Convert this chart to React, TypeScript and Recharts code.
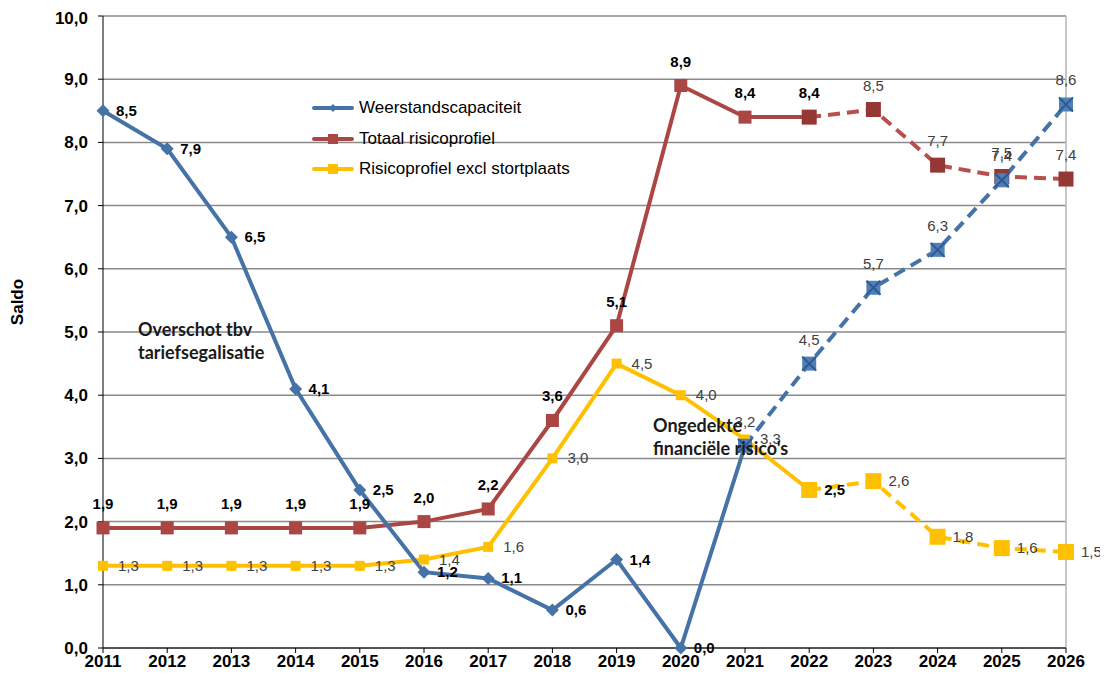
import { LineChart, Line, XAxis, YAxis, CartesianGrid, LabelList, ReferenceLine, Legend } from "recharts";

const years = ["2011", "2012", "2013", "2014", "2015", "2016", "2017", "2018", "2019", "2020", "2021", "2022", "2023", "2024", "2025", "2026"];

// values (prognosis values where the marker sits slightly off its label)
const weerstandscapaciteit = [8.5, 7.9, 6.5, 4.1, 2.5, 1.2, 1.1, 0.6, 1.4, 0.0, 3.2, 4.5, 5.7, 6.3, 7.4, 8.6];
const totaalRisicoprofiel = [1.9, 1.9, 1.9, 1.9, 1.9, 2.0, 2.2, 3.6, 5.1, 8.9, 8.4, 8.4, 8.52, 7.64, 7.46, 7.42];
const exclStortplaats = [1.3, 1.3, 1.3, 1.3, 1.3, 1.4, 1.6, 3.0, 4.5, 4.0, 3.3, 2.5, 2.64, 1.76, 1.58, 1.52];

const weerstandLabels = ["8,5", "7,9", "6,5", "4,1", "2,5", "1,2", "1,1", "0,6", "1,4", "0,0", "3,2", "4,5", "5,7", "6,3", "7,4", "8,6"];
const totaalLabels = ["1,9", "1,9", "1,9", "1,9", "1,9", "2,0", "2,2", "3,6", "5,1", "8,9", "8,4", "8,4", "8,5", "7,7", "7,5", "7,4"];
const exclLabels = ["1,3", "1,3", "1,3", "1,3", "1,3", "1,4", "1,6", "3,0", "4,5", "4,0", "3,3", "2,5", "2,6", "1,8", "1,6", "1,5"];

const yTicks = [0, 1, 2, 3, 4, 5, 6, 7, 8, 9, 10];

const legendItems = [
  { name: "Weerstandscapaciteit", color: "#4572A7", marker: "diamond" },
  { name: "Totaal risicoprofiel", color: "#AA4643", marker: "square" },
  { name: "Risicoprofiel excl stortplaats", color: "#FFC000", marker: "square" },
];

const BLUE = "#4572A7";
const RED = "#AA4643";
const RED_DARK = "#953735";
const YELLOW = "#FFC000";

// prognosis (dashed) starts at these indexes
const blueSplit = 10;
const redSplit = 11;
const yellowSplit = 11;

const data = years.map((year, i) => ({
  year,
  blueSolid: i <= blueSplit ? weerstandscapaciteit[i] : null,
  blueDash: i >= blueSplit ? weerstandscapaciteit[i] : null,
  redSolid: i <= redSplit ? totaalRisicoprofiel[i] : null,
  redDash: i >= redSplit ? totaalRisicoprofiel[i] : null,
  yelSolid: i <= yellowSplit ? exclStortplaats[i] : null,
  yelDash: i >= yellowSplit ? exclStortplaats[i] : null,
}));

const FONT = "'Liberation Sans', Arial, sans-serif";

function makeLabel(texts: string[], from: number, to: number, pos: "right" | "top", bold: (i: number) => boolean, dx = 13) {
  return (props: any) => {
    const { x, y, index } = props;
    if (index < from || index > to || x == null || y == null) return null;
    const b = bold(index);
    return (
      <text
        x={pos === "right" ? x + dx : x}
        y={pos === "right" ? y + 5 : y - 19}
        textAnchor={pos === "right" ? "start" : "middle"}
        fontFamily={FONT}
        fontSize={15}
        fontWeight={b ? "bold" : "normal"}
        fill={b ? "#000" : "#404040"}
      >
        {texts[index]}
      </text>
    );
  };
}

const diamondDot = (props: any) => {
  const { cx, cy, index } = props;
  if (cx == null || cy == null || index >= blueSplit) return <g key={`bd-${index}`} />;
  const r = 6.5;
  return <path key={`bd-${index}`} d={`M${cx},${cy - r}L${cx + r},${cy}L${cx},${cy + r}L${cx - r},${cy}Z`} fill={BLUE} />;
};

const crossSquareDot = (props: any) => {
  const { cx, cy, index } = props;
  if (cx == null || cy == null) return <g key={`bx-${index}`} />;
  const h = 7;
  return (
    <g key={`bx-${index}`}>
      <rect x={cx - h} y={cy - h} width={2 * h} height={2 * h} fill="#4F7FB8" />
      <path d={`M${cx - h},${cy - h}L${cx + h},${cy + h}M${cx + h},${cy - h}L${cx - h},${cy + h}`} stroke="#2E5A8E" strokeWidth={2} />
    </g>
  );
};

const squareDot = (size: number, color: string, keyBase: string, skipFrom = 99) => (props: any) => {
  const { cx, cy, index } = props;
  if (cx == null || cy == null || index >= skipFrom) return <g key={`${keyBase}-${index}`} />;
  return <rect key={`${keyBase}-${index}`} x={cx - size / 2} y={cy - size / 2} width={size} height={size} fill={color} />;
};

const LegendBox = () => (
  <div style={{ fontFamily: FONT, fontSize: 17, color: "#000" }}>
    {legendItems.map((item) => (
      <div key={item.name} style={{ display: "flex", alignItems: "center", height: 30.5 }}>
        <svg width={44} height={14} style={{ marginRight: 3 }}>
          <line x1={2} y1={7} x2={40} y2={7} stroke={item.color} strokeWidth={4} strokeLinecap="round" />
          {item.marker === "diamond" ? (
            <path d="M21,3L25,7L21,11L17,7Z" fill={item.color} />
          ) : (
            <rect x={16} y={2} width={10} height={10} fill={item.color} />
          )}
        </svg>
        <span>{item.name}</span>
      </div>
    ))}
  </div>
);

const annotationStyle = {
  position: "absolute" as const,
  fontFamily: "Lato, sans-serif",
  fontWeight: "bold" as const,
  fontSize: 18,
  lineHeight: "23px",
  color: "#1a1a1a",
};

export default function App() {
  return (
    <div style={{ position: "relative", width: 1100, height: 669 }}>
      <LineChart width={1100} height={669} data={data} margin={{ top: 8, right: 42, bottom: 0, left: 0 }}>
        <CartesianGrid vertical={false} stroke="#8A8A8A" strokeWidth={1.5} />
        <XAxis
          dataKey="year"
          height={29}
          axisLine={{ stroke: "#000" }}
          tickLine={{ stroke: "#000" }}
          tickSize={5}
          tick={{ fontFamily: FONT, fontSize: 17, fontWeight: "bold", fill: "#000" }}
          interval={0}
        />
        <YAxis
          width={95}
          domain={[0, 10]}
          ticks={yTicks}
          axisLine={{ stroke: "#000" }}
          tickLine={{ stroke: "#000" }}
          tickSize={5}
          tickMargin={10}
          tick={{ fontFamily: FONT, fontSize: 17, fontWeight: "bold", fill: "#000" }}
          tickFormatter={(v: number) => v.toFixed(1).replace(".", ",")}
        />
        <ReferenceLine x="2026" stroke="#B5B5B5" strokeWidth={1.5} />
        <Legend
          layout="vertical"
          align="center"
          verticalAlign="middle"
          wrapperStyle={{ position: "absolute", left: 304, top: 85, width: 330 }}
          content={() => <LegendBox />}
        />

        <Line dataKey="yelSolid" stroke={YELLOW} strokeWidth={4} isAnimationActive={false} dot={squareDot(10, YELLOW, "ys")} activeDot={false} legendType="none">
          <LabelList dataKey="yelSolid" content={makeLabel(exclLabels, 0, yellowSplit, "right", (i) => i === 11, 15)} />
        </Line>
        <Line dataKey="yelDash" stroke={YELLOW} strokeWidth={4} strokeDasharray="12 7" isAnimationActive={false} dot={squareDot(16, YELLOW, "yd")} activeDot={false} legendType="none">
          <LabelList dataKey="yelDash" content={makeLabel(exclLabels, yellowSplit + 1, 15, "right", () => false, 15)} />
        </Line>

        <Line dataKey="redSolid" stroke={RED} strokeWidth={4} isAnimationActive={false} dot={squareDot(13, RED, "rs", redSplit)} activeDot={false} legendType="none">
          <LabelList dataKey="redSolid" content={makeLabel(totaalLabels, 0, redSplit, "top", () => true)} />
        </Line>
        <Line dataKey="redDash" stroke="#B84F4C" strokeWidth={4} strokeDasharray="12 7" isAnimationActive={false} dot={squareDot(15, RED_DARK, "rd")} activeDot={false} legendType="none">
          <LabelList dataKey="redDash" content={makeLabel(totaalLabels, redSplit + 1, 15, "top", () => false)} />
        </Line>

        <Line dataKey="blueSolid" stroke={BLUE} strokeWidth={4} isAnimationActive={false} dot={diamondDot} activeDot={false} legendType="none">
          <LabelList dataKey="blueSolid" content={makeLabel(weerstandLabels, 0, blueSplit - 1, "right", () => true)} />
        </Line>
        <Line dataKey="blueDash" stroke={BLUE} strokeWidth={4} strokeDasharray="12 7" isAnimationActive={false} dot={crossSquareDot} activeDot={false} legendType="none">
          <LabelList dataKey="blueDash" content={makeLabel(weerstandLabels, blueSplit, 15, "top", () => false)} />
        </Line>
      </LineChart>

      <div
        style={{
          position: "absolute",
          left: 10,
          top: 294,
          transform: "translate(-50%, -50%) rotate(-90deg)",
          fontFamily: FONT,
          fontSize: 17,
          fontWeight: "bold",
        }}
      >
        Saldo
      </div>
      <div style={{ ...annotationStyle, left: 130, top: 310 }}>
        Overschot tbv
        <br />
        tariefsegalisatie
      </div>
      <div style={{ ...annotationStyle, left: 645, top: 406 }}>
        Ongedekte
        <br />
        financiële risico's
      </div>
    </div>
  );
}
